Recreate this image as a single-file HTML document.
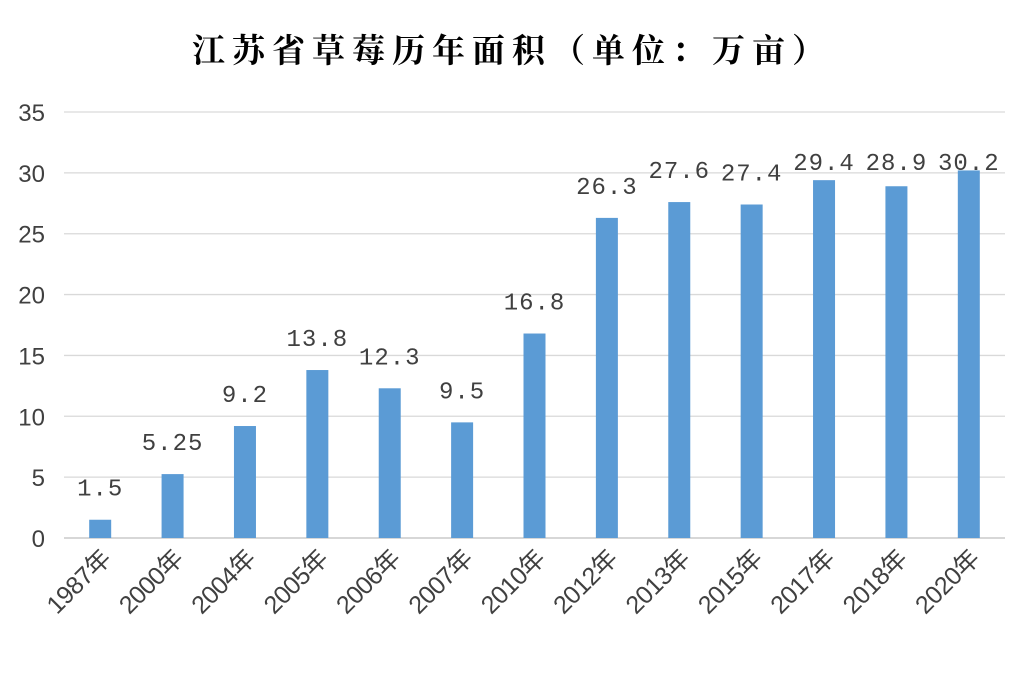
<!DOCTYPE html>
<html><head><meta charset="utf-8"><style>
body{margin:0;background:#fff;}
svg{display:block;}
</style></head><body>
<svg id="chart" width="1023" height="678" viewBox="0 0 1023 678" xmlns="http://www.w3.org/2000/svg">
<rect width="1023" height="678" fill="#fff"/>
<text x="512" y="62" text-anchor="middle" font-family="'Liberation Serif','Noto Serif CJK SC',serif" font-weight="bold" font-size="33" fill="#000" letter-spacing="7">江苏省草莓历年面积（单位：万亩）</text>
<g id="grid"></g><g id="bars"></g><g id="labels"></g>
</svg>
<script>
const categories=["1987年","2000年","2004年","2005年","2006年","2007年","2010年","2012年","2013年","2015年","2017年","2018年","2020年"];
const values=[1.5,5.25,9.2,13.8,12.3,9.5,16.8,26.3,27.6,27.4,29.4,28.9,30.2];
const valueLabels=["1.5","5.25","9.2","13.8","12.3","9.5","16.8","26.3","27.6","27.4","29.4","28.9","30.2"];
const yTicks=[0,5,10,15,20,25,30,35];
const NS="http://www.w3.org/2000/svg";
const x0=64,x1=1005,yBase=538,pxPerUnit=(538-112)/35;
const step=(x1-x0)/categories.length;
const xC=i=>x0+step*(i+0.5);
const yS=v=>yBase-v*pxPerUnit;
function mk(t,a){const e=document.createElementNS(NS,t);for(const k in a)e.setAttribute(k,a[k]);return e;}
const grid=document.getElementById('grid'),bars=document.getElementById('bars'),labels=document.getElementById('labels');
yTicks.forEach(t=>{
  const l=mk('line',{x1:x0,x2:x1,y1:yS(t),y2:yS(t),stroke:t===0?'#bfbfbf':'#d9d9d9','stroke-width':1.3});
  
  
  grid.appendChild(l);
  const tx=mk('text',{x:45,y:yS(t)+9,'text-anchor':'end','font-family':"'Liberation Sans',sans-serif",'font-size':24,fill:'#404040'});
  tx.textContent=t;
  
  
  grid.appendChild(tx);
});
categories.forEach((c,i)=>{
  const w=22,v=values[i];
  const r=mk('rect',{x:xC(i)-w/2,y:yS(v),width:w,height:yBase-yS(v),fill:'#5b9bd5'});
  
  
  bars.appendChild(r);
  const vy=Math.max(yS(v)-24,170);
  const vl=mk('text',{x:xC(i),y:vy,'text-anchor':'middle','font-family':"'Liberation Mono',monospace",'font-size':24,'letter-spacing':1,fill:'#404040'});
  vl.textContent=valueLabels[i];
  
  
  labels.appendChild(vl);
  const cx=xC(i)+12,cy=560;
  const cl=mk('text',{x:cx,y:cy,'text-anchor':'end','font-family':"'Liberation Sans','Noto Sans CJK SC',sans-serif",'font-size':25,'letter-spacing':-0.5,fill:'#404040',transform:`rotate(-45 ${cx} ${cy})`});
  cl.textContent=c;
  
  
  labels.appendChild(cl);
});
</script>
</body></html>
